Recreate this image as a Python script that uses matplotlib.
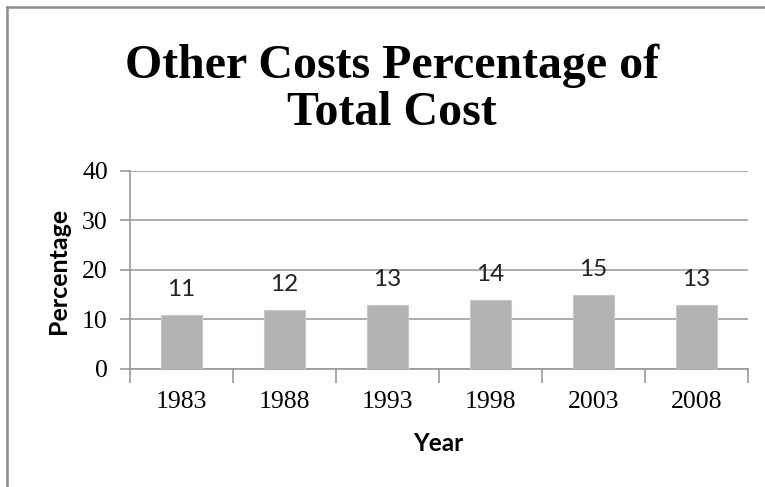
import numpy as np
import matplotlib
matplotlib.use('Agg')
import matplotlib.pyplot as plt
from matplotlib.lines import Line2D

# data
years = ['1983', '1988', '1993', '1998', '2003', '2008']
values = [11, 12, 13, 14, 15, 13]
yticks = [0, 10, 20, 30, 40]

fig = plt.figure(figsize=(7.65, 4.87), dpi=100)
ax = fig.add_axes([0.1699, 0.2423, 0.8079, 0.4066])

x = np.arange(len(years))
ax.bar(x, values, width=0.4, color='#b3b3b3', edgecolor='#c8c8c8', linewidth=0.8, zorder=3)

# value labels above bars
for xi, v in zip(x, values):
    ax.text(xi, v + 5, str(v), ha='center', va='center', fontsize=17.5,
            family='Lato', color='#222222')

ax.set_xlim(-0.5, len(years) - 0.5)
ax.set_ylim(0, 40)
ax.set_yticks(yticks)
ax.set_yticklabels([str(t) for t in yticks], family='Liberation Serif', fontsize=18.5)
ax.set_xticks(x)
ax.set_xticklabels(years, family='Liberation Serif', fontsize=18.5)
ax.set_xticks(np.arange(-0.5, len(years)), minor=True)

ax.tick_params(axis='x', which='major', length=0, pad=16)
ax.tick_params(axis='x', which='minor', length=10, width=1.2, color='#999999', direction='out')
ax.tick_params(axis='y', length=7, width=1.2, color='#999999', pad=9)

ax.yaxis.grid(True, color='#a6a6a6', linewidth=1.3, zorder=0)
for s in ['top', 'right']:
    ax.spines[s].set_visible(False)
ax.spines['left'].set_color('#999999')
ax.spines['bottom'].set_color('#999999')
ax.spines['left'].set_linewidth(1.2)
ax.spines['bottom'].set_linewidth(1.2)

fig.text(0.512, 0.817, 'Other Costs Percentage of\nTotal Cost', ha='center', va='center',
         fontsize=34.5, fontweight='bold', family='Liberation Serif', linespacing=1.08)
fig.text(0.077, 0.4435, 'Percentage', rotation=90, ha='center', va='center',
         fontsize=18, fontweight='bold', family='Lato')
fig.text(0.5725, 0.0903, 'Year', ha='center', va='center',
         fontsize=17.5, fontweight='bold', family='Lato')

# chart border (left and top)
fig.add_artist(Line2D([7 / 765, 7 / 765], [0, 1 - 7 / 487], color='#8c8c8c', linewidth=1.8))
fig.add_artist(Line2D([7 / 765, 1], [1 - 7 / 487, 1 - 7 / 487], color='#8c8c8c', linewidth=1.8))

fig.savefig('out.png', dpi=100)
